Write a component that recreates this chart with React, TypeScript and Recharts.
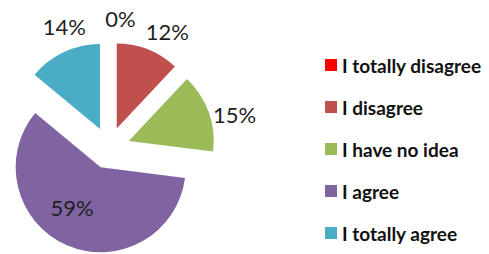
// Exploded pie of survey answers, with the legend on the right.
import React from "react";
import { PieChart, Pie, Cell, Legend, Sector } from "recharts";

const categories = ["I totally disagree", "I disagree", "I have no idea", "I agree", "I totally agree"];
const shares = [0, 12, 15, 59, 14];
const colors = ["#FF0000", "#C0504D", "#9BBB59", "#8064A2", "#4BACC6"];

const data = categories.map((name, i) => ({ name, value: shares[i] }));

const W = 489;
const H = 254;
const EXPLODE = 21;
const RAD = Math.PI / 180;
const FONT = "Lato, 'Noto Sans', sans-serif";

// move a point d px out along a recharts angle (degrees, counter-clockwise from 3 o'clock)
function along(x: number, y: number, angle: number, d: number) {
  return [x + d * Math.cos(-angle * RAD), y + d * Math.sin(-angle * RAD)];
}

function ExplodedSector(props: any) {
  const { cx, cy, midAngle, innerRadius, outerRadius, startAngle, endAngle, fill } = props;
  const [x, y] = along(cx, cy, midAngle, EXPLODE);
  return (
    <Sector
      cx={x}
      cy={y}
      innerRadius={innerRadius}
      outerRadius={outerRadius}
      startAngle={startAngle}
      endAngle={endAngle}
      fill={fill}
      stroke="none"
    />
  );
}

// labels sit a little clockwise of each slice's middle; the big slice keeps its label inside
function renderLabel(props: any) {
  const { cx, cy, midAngle, outerRadius, value } = props;
  const [ex, ey] = along(cx, cy, midAngle, EXPLODE);
  const inside = value > 50;
  const a = inside ? midAngle - 12 : midAngle - 6;
  const r = inside ? outerRadius * 0.58 : outerRadius + 24;
  const [x, y] = along(ex, ey, a, r);
  return (
    <text
      x={x}
      y={y}
      textAnchor="middle"
      dominantBaseline="central"
      fontFamily={FONT}
      fontSize={22}
      fill="#1f1f1f"
    >
      {`${value}%`}
    </text>
  );
}

function LegendList() {
  return (
    <ul style={{ listStyle: "none", margin: 0, padding: 0, fontFamily: FONT }}>
      {categories.map((c, i) => (
        <li key={c} style={{ display: "flex", alignItems: "center", height: 42, fontSize: 19, fontWeight: 700, color: "#111", whiteSpace: "nowrap" }}>
          <span style={{ width: 12, height: 12, background: colors[i], marginRight: 5, flex: "none" }} />
          {c}
        </li>
      ))}
    </ul>
  );
}

export default function App() {
  return (
    <div style={{ width: W, height: H, background: "#fff" }}>
      <style>{"body{margin:0}"}</style>
      <PieChart width={W} height={H} margin={{ top: 0, right: 0, bottom: 0, left: 0 }}>
        <Pie
          data={data}
          dataKey="value"
          nameKey="name"
          cx={109}
          cy={148}
          outerRadius={85}
          startAngle={90}
          endAngle={-270}
          stroke="none"
          shape={ExplodedSector}
          label={renderLabel}
          labelLine={false}
          isAnimationActive={false}
        >
          {data.map((d, i) => (
            <Cell key={d.name} fill={colors[i]} />
          ))}
        </Pie>
        <Legend
          layout="vertical"
          align="right"
          verticalAlign="top"
          content={LegendList}
          wrapperStyle={{ left: 325, top: 44, width: 164 }}
        />
      </PieChart>
    </div>
  );
}
